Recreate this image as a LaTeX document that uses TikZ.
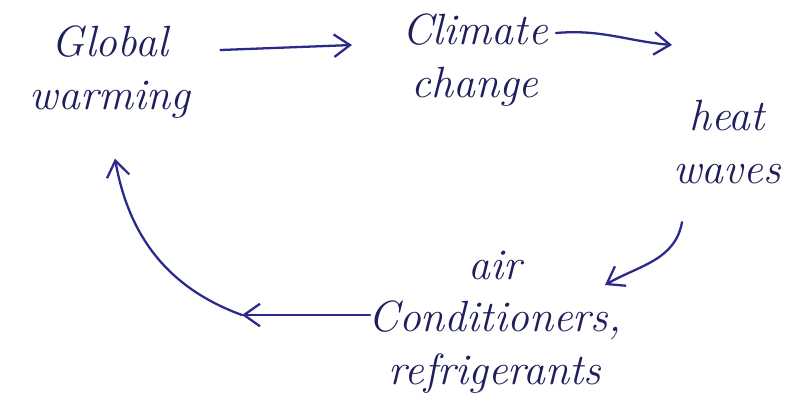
\documentclass[tikz,border=0pt]{standalone}
\usepackage{xcolor}
\usepackage{tikz}
\usetikzlibrary{arrows.meta, calc}

\definecolor{inkblue}{HTML}{1F1F5C}
\definecolor{penblue}{HTML}{2A2A8C}

\begin{document}
\begin{tikzpicture}[x=0.02cm, y=-0.02cm, >={Straight Barb[length=3.2mm, width=4.5mm]},
  word/.style={align=center, text=inkblue, font=\Huge\itshape, inner sep=0pt},
  arr/.style={->, penblue, line width=1.3pt, line cap=round}]
  \useasboundingbox (0,0) rectangle (798,414);
  \node[word] (gw) at (110,72) {Global\\warming};
  \node[word] (cc) at (475,60) {Climate\\change};
  \node[word] (hw) at (727,142) {heat\\waves};
  \node[word] (ac) at (495,322) {air\\Conditioners,\\refrigerants};

  \coordinate (hwin) at (672,45);
  \coordinate (acin) at (605,285);
  \coordinate (gwin) at (242,315);

  \draw[arr] ($(gw.east)+(30,-22)$) -- ($(cc.west)+(-50,-15)$);
  \draw[arr] ($(cc.east)+(8,-27)$) to[out=5, in=175] (hwin);
  \draw[arr] ($(hw.south)+(-45,38)$) to[out=-100, in=30] (acin);
  \draw[arr] ($(ac.west)+(2,-7)$) -- (gwin);
  \draw[arr] (gwin) to[out=160, in=-80] ($(gw.south)+(5,40)$);
\end{tikzpicture}
\end{document}
